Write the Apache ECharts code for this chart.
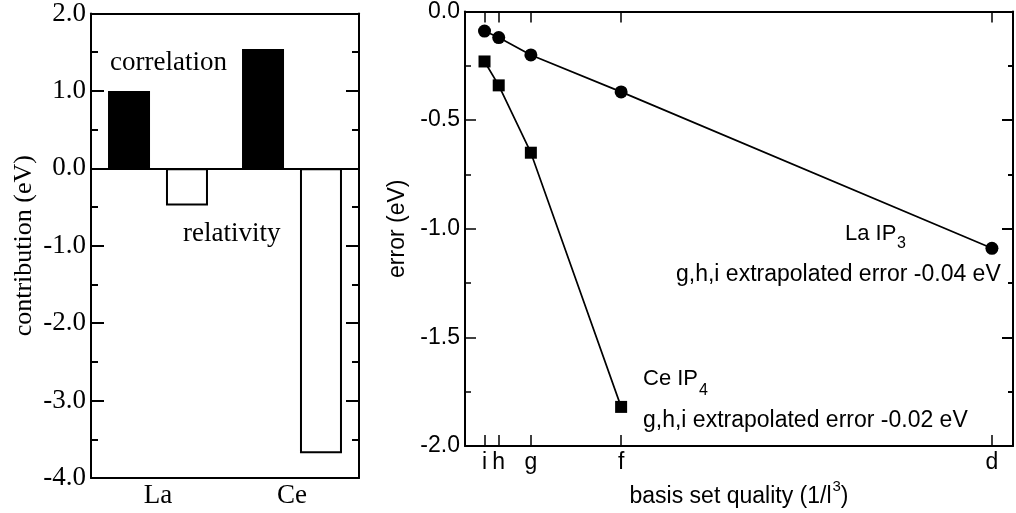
<!DOCTYPE html>
<html>
<head>
<meta charset="utf-8">
<script src="https://cdn.jsdelivr.net/npm/echarts@6/dist/echarts.min.js"></script>
<style>
  html, body { margin: 0; padding: 0; background: #fff; }
  #chart-container { width: 1016px; height: 513px; }
</style>
</head>
<body>
<div id="chart-container"></div>
<script>
// left panel: contributions per element
var elements = ['La', 'Ce'];
var correlation = [1.0, 1.54];
var relativity = [-0.48, -3.68];

// right panel: error vs basis set quality (1/l^3)
var shells = ['i', 'h', 'g', 'f', 'd'];
var shellL = [6, 5, 4, 3, 2];
var laError = [-0.09, -0.12, -0.20, -0.37, -1.09];
var ceError = [-0.23, -0.34, -0.65, -1.82];

var basisX = shellL.map(function (l) { return 1 / (l * l * l); });

var serif = '"Liberation Serif", "DejaVu Serif", serif';
var sans = '"Liberation Sans", Arial, sans-serif';

var dom = document.getElementById('chart-container');
var myChart = echarts.init(dom, null, { renderer: 'canvas' });

var blackLine = { color: '#000', width: 2 };

function shellName(value) {
  var best = 0;
  for (var i = 1; i < basisX.length; i++) {
    if (Math.abs(basisX[i] - value) < Math.abs(basisX[best] - value)) best = i;
  }
  return shells[best];
}

function mirrorValueAxis(gridIndex, position, min, max, interval, tickLen, minorLen) {
  return {
    gridIndex: gridIndex,
    type: 'value',
    position: position,
    min: min,
    max: max,
    interval: interval,
    axisLine: { show: true, onZero: false, lineStyle: blackLine },
    axisTick: { show: true, inside: true, length: tickLen, lineStyle: blackLine },
    minorTick: { show: true, splitNumber: 2, length: minorLen, lineStyle: blackLine },
    axisLabel: { show: false },
    splitLine: { show: false },
    minorSplitLine: { show: false }
  };
}

var option = {
  animation: false,
  backgroundColor: '#fff',
  grid: [
    { left: 91, top: 10, width: 268, height: 468 },
    { left: 465, top: 7, width: 548, height: 439 }
  ],
  xAxis: [
    {
      gridIndex: 0,
      type: 'category',
      data: elements,
      position: 'bottom',
      axisLine: { onZero: false, lineStyle: blackLine },
      axisTick: { inside: true, alignWithLabel: true, length: 13, lineStyle: blackLine },
      axisLabel: { margin: 4, color: '#000', fontFamily: serif, fontSize: 27 }
    },
    {
      gridIndex: 0,
      type: 'category',
      data: elements,
      position: 'top',
      axisLine: { onZero: false, lineStyle: blackLine },
      axisTick: { inside: true, alignWithLabel: true, length: 13, lineStyle: blackLine },
      axisLabel: { show: false }
    },
    {
      gridIndex: 1,
      type: 'value',
      position: 'bottom',
      min: 0,
      max: 0.13,
      axisLine: { onZero: false, lineStyle: blackLine },
      axisTick: { inside: true, length: 11, customValues: basisX, lineStyle: { color: '#000', width: 1.5 } },
      axisLabel: {
        customValues: basisX,
        formatter: shellName,
        margin: 5,
        color: '#000',
        fontFamily: sans,
        fontSize: 23
      },
      splitLine: { show: false },
      name: '{n|basis set quality (1/l}{s|3}{n|)}',
      nameLocation: 'middle',
      nameGap: 33,
      nameTextStyle: {
        color: '#000',
        fontFamily: sans,
        fontSize: 23,
        rich: {
          n: { fontFamily: sans, fontSize: 23, color: '#000' },
          s: { fontFamily: sans, fontSize: 15, color: '#000', padding: [0, 0, 20, 1] }
        }
      }
    },
    {
      gridIndex: 1,
      type: 'value',
      position: 'top',
      min: 0,
      max: 0.13,
      axisLine: { onZero: false, lineStyle: blackLine },
      axisTick: { inside: true, length: 11, customValues: basisX, lineStyle: { color: '#000', width: 1.5 } },
      axisLabel: { show: false },
      splitLine: { show: false }
    }
  ],
  yAxis: [
    {
      gridIndex: 0,
      type: 'value',
      min: -4,
      max: 2,
      interval: 1,
      axisLine: { show: true, onZero: false, lineStyle: blackLine },
      axisTick: { show: true, inside: true, length: 13, lineStyle: blackLine },
      minorTick: { show: true, splitNumber: 2, length: 7, lineStyle: blackLine },
      axisLabel: {
        formatter: function (v) { return v.toFixed(1); },
        margin: 5,
        color: '#000',
        fontFamily: serif,
        fontSize: 27
      },
      splitLine: { show: false },
      minorSplitLine: { show: false },
      name: 'contribution (eV)',
      nameLocation: 'middle',
      nameGap: 54,
      nameTextStyle: { color: '#000', fontFamily: serif, fontSize: 26 }
    },
    mirrorValueAxis(0, 'right', -4, 2, 1, 13, 7),
    {
      gridIndex: 1,
      type: 'value',
      min: -2,
      max: 0,
      interval: 0.5,
      axisLine: { show: true, onZero: false, lineStyle: blackLine },
      axisTick: { show: true, inside: true, length: 11, lineStyle: { color: '#000', width: 1.5 } },
      minorTick: { show: true, splitNumber: 2, length: 6, lineStyle: { color: '#000', width: 1.5 } },
      axisLabel: {
        formatter: function (v) { return v.toFixed(1); },
        margin: 5,
        color: '#000',
        fontFamily: sans,
        fontSize: 23
      },
      splitLine: { show: false },
      minorSplitLine: { show: false },
      name: 'error (eV)',
      nameLocation: 'middle',
      nameGap: 45,
      nameTextStyle: { color: '#000', fontFamily: sans, fontSize: 23 }
    },
    mirrorValueAxis(1, 'right', -2, 0, 0.5, 11, 5)
  ],
  series: [
    {
      name: 'correlation',
      type: 'bar',
      xAxisIndex: 0,
      yAxisIndex: 0,
      data: correlation,
      barWidth: 42,
      barGap: '38%',
      itemStyle: { color: '#000', borderColor: '#000', borderWidth: 2 },
      markLine: {
        silent: true,
        symbol: 'none',
        label: { show: false },
        lineStyle: { color: '#000', width: 2, type: 'solid' },
        data: [{ yAxis: 0 }]
      }
    },
    {
      name: 'relativity',
      type: 'bar',
      xAxisIndex: 0,
      yAxisIndex: 0,
      data: relativity,
      barWidth: 42,
      barGap: '38%',
      itemStyle: { color: '#fff', borderColor: '#000', borderWidth: 2 }
    },
    {
      name: 'La IP3',
      type: 'line',
      xAxisIndex: 2,
      yAxisIndex: 2,
      data: laError.map(function (v, i) { return [basisX[i], v]; }),
      symbol: 'circle',
      symbolSize: 13,
      itemStyle: { color: '#000' },
      lineStyle: { color: '#000', width: 1.7 }
    },
    {
      name: 'Ce IP4',
      type: 'line',
      xAxisIndex: 2,
      yAxisIndex: 2,
      data: ceError.map(function (v, i) { return [basisX[i], v]; }),
      symbol: 'rect',
      symbolSize: 12,
      itemStyle: { color: '#000' },
      lineStyle: { color: '#000', width: 1.7 }
    }
  ],
  graphic: [
    { type: 'text', x: 110, y: 63, style: { text: 'correlation', font: '27px ' + serif, fill: '#000', textVerticalAlign: 'middle', verticalAlign: 'middle' } },
    { type: 'text', x: 183, y: 234, style: { text: 'relativity', font: '27px ' + serif, fill: '#000', textVerticalAlign: 'middle', verticalAlign: 'middle' } },
    { type: 'text', x: 845, y: 234, style: { text: 'La IP', font: '22px ' + sans, fill: '#000', textVerticalAlign: 'middle', verticalAlign: 'middle' } },
    { type: 'text', x: 897, y: 244, style: { text: '3', font: '16px ' + sans, fill: '#000', textVerticalAlign: 'middle', verticalAlign: 'middle' } },
    { type: 'text', x: 676, y: 275, style: { text: 'g,h,i extrapolated error -0.04 eV', font: '23px ' + sans, fill: '#000', textVerticalAlign: 'middle', verticalAlign: 'middle' } },
    { type: 'text', x: 643, y: 379, style: { text: 'Ce IP', font: '22px ' + sans, fill: '#000', textVerticalAlign: 'middle', verticalAlign: 'middle' } },
    { type: 'text', x: 699, y: 391, style: { text: '4', font: '16px ' + sans, fill: '#000', textVerticalAlign: 'middle', verticalAlign: 'middle' } },
    { type: 'text', x: 643, y: 421, style: { text: 'g,h,i extrapolated error -0.02 eV', font: '23px ' + sans, fill: '#000', textVerticalAlign: 'middle', verticalAlign: 'middle' } }
  ]
};

if (option && typeof option === 'object') {
  myChart.setOption(option);
}

window.addEventListener('resize', myChart.resize);
</script>
</body>
</html>
